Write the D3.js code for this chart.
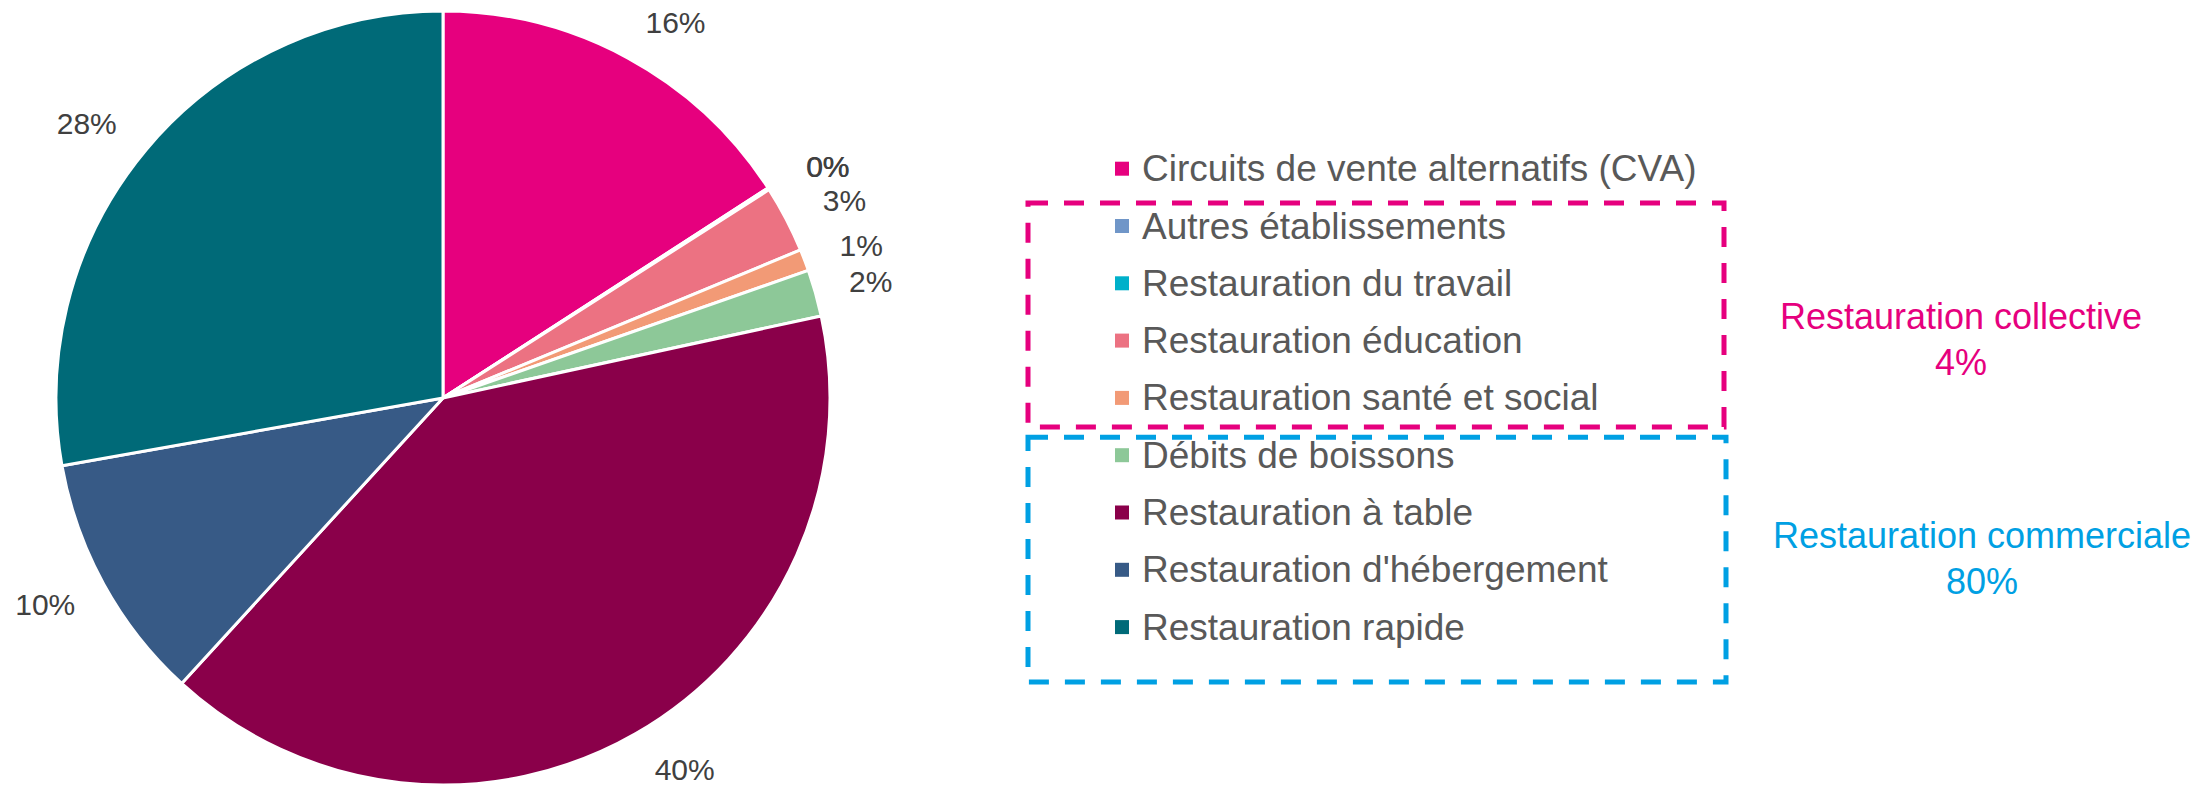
<!DOCTYPE html>
<html>
<head>
<meta charset="utf-8">
<script src="https://cdn.jsdelivr.net/npm/d3@7"></script>
<style>
  html, body { margin: 0; padding: 0; background: #fff; }
  svg { display: block; font-family: "Liberation Sans", Arial, sans-serif; }
</style>
</head>
<body>
<svg id="chart" width="2205" height="786"></svg>
<script>
// ---- Data ----
const categories = [
  "Circuits de vente alternatifs (CVA)",
  "Autres établissements",
  "Restauration du travail",
  "Restauration éducation",
  "Restauration santé et social",
  "Débits de boissons",
  "Restauration à table",
  "Restauration d'hébergement",
  "Restauration rapide"
];
const values = [15.87, 0.03, 0.05, 2.8, 0.9, 1.95, 40.2, 10.4, 27.8];
const colors = ["#E6007E", "#7096C8", "#00B0CA", "#EC7282", "#F29A76", "#8DC898", "#8A004A", "#375A86", "#006A78"];
const groupNames = ["Restauration collective", "Restauration commerciale"];
const groupTotals = ["4%", "80%"];
const groupColors = ["#E6007E", "#00A0E3"];
const groupMembers = [[1, 2, 3, 4], [5, 6, 7, 8]];

// ---- Layout ----
const svg = d3.select("#chart");
const cx = 443, cy = 398, radius = 387;

const pie = d3.pie().sort(null).value(d => d.value);
const data = categories.map((c, i) => ({ name: c, value: values[i], color: colors[i] }));
const arcs = pie(data);
const arc = d3.arc().innerRadius(0).outerRadius(radius);

const g = svg.append("g").attr("transform", `translate(${cx},${cy})`);
g.selectAll("path.slice")
  .data(arcs)
  .enter().append("path")
  .attr("class", "slice")
  .attr("d", arc)
  .attr("fill", d => d.data.color)
  .attr("stroke", "#fff")
  .attr("stroke-width", 3)
  .attr("stroke-linejoin", "round");

// data labels (outside end)
const ry = 428;
g.selectAll("text.lbl")
  .data(arcs)
  .enter().append("text")
  .attr("class", "lbl")
  .attr("x", d => {
    const a = (d.startAngle + d.endAngle) / 2;
    const rx = 440 + 60 * Math.cos(a) * Math.cos(a);
    return rx * Math.sin(a);
  })
  .attr("y", d => {
    const a = (d.startAngle + d.endAngle) / 2;
    return -ry * Math.cos(a);
  })
  .attr("text-anchor", "middle")
  .attr("dominant-baseline", "central")
  .attr("font-size", 30)
  .attr("fill", "#404040")
  .text(d => Math.round(d.data.value) + "%");

// ---- Legend ----
const legendY = d3.scaleLinear().domain([0, 1]).range([168.7, 226]);
const legend = svg.append("g");
const rows = legend.selectAll("g.row")
  .data(data)
  .enter().append("g")
  .attr("class", "row")
  .attr("transform", (d, i) => `translate(0,${legendY(i)})`);
rows.append("rect")
  .attr("x", 1115).attr("y", -7).attr("width", 14).attr("height", 14)
  .attr("fill", d => d.color);
rows.append("text")
  .attr("x", 1142).attr("y", 0)
  .attr("dominant-baseline", "central")
  .attr("font-size", 37)
  .attr("fill", "#595959")
  .text(d => d.name);

// ---- Group boxes ----
const boxes = [
  { x0: 1028, x1: 1724, y0: legendY(groupMembers[0][0]) - 23, y1: legendY(groupMembers[0][3]) + 29 },
  { x0: 1028, x1: 1726, y0: legendY(groupMembers[1][0]) - 18, y1: legendY(groupMembers[1][3]) + 55 }
];
boxes.forEach((b, i) => {
  svg.append("rect")
    .attr("x", b.x0).attr("y", b.y0)
    .attr("width", b.x1 - b.x0).attr("height", b.y1 - b.y0)
    .attr("fill", "none")
    .attr("stroke", groupColors[i])
    .attr("stroke-width", 5)
    .attr("stroke-dasharray", "20,16");
});

// group annotations
const groupPos = [{ x: 1961, y: 329 }, { x: 1982, y: 548 }];
groupNames.forEach((n, i) => {
  const t = svg.append("text")
    .attr("x", groupPos[i].x).attr("y", groupPos[i].y)
    .attr("text-anchor", "middle")
    .attr("font-size", 36)
    .attr("fill", groupColors[i]);
  t.append("tspan").attr("x", groupPos[i].x).attr("dy", 0).text(n);
  t.append("tspan").attr("x", groupPos[i].x).attr("dy", 46).text(groupTotals[i]);
});
</script>
</body>
</html>
